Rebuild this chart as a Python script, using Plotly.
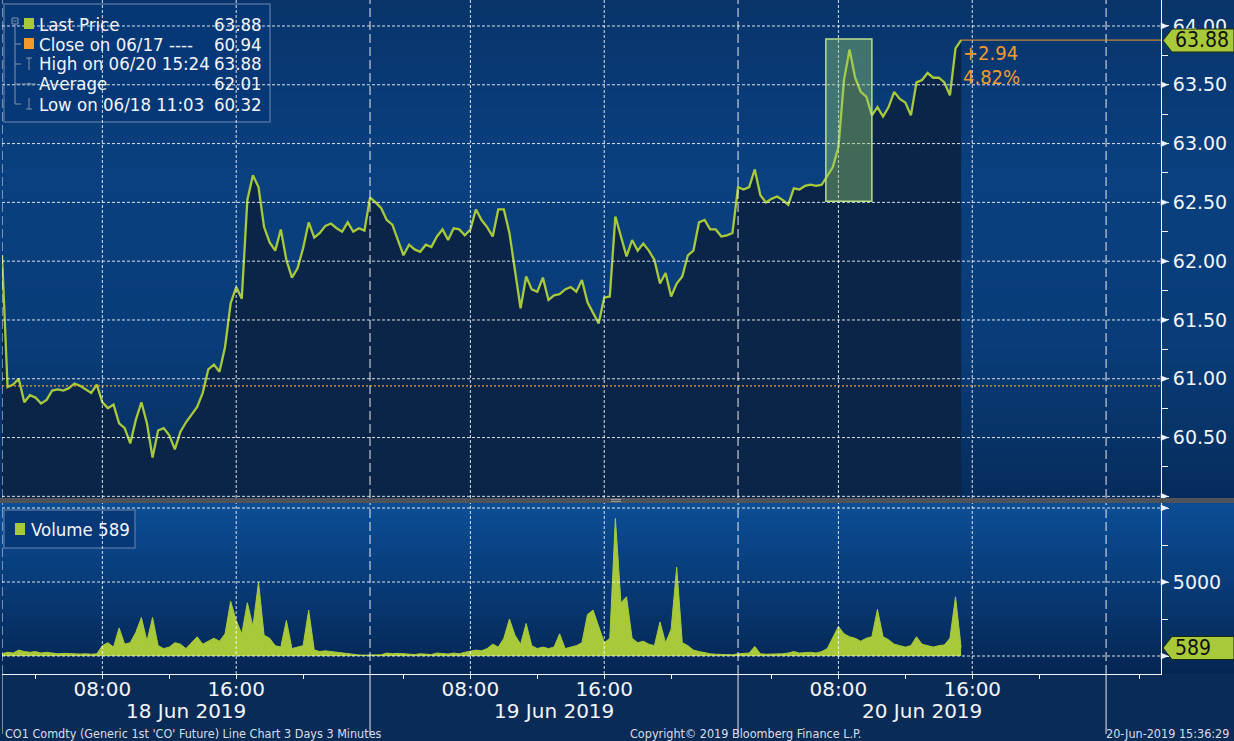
import plotly.graph_objects as go
import pandas as pd

# ---------------- data ----------------
session_dates = ["2019-06-18", "2019-06-19", "2019-06-20"]
date_labels = ["18 Jun 2019", "19 Jun 2019", "20 Jun 2019"]
session_open = "02:00"
sample_step = "20min"

price_18 = [62.05, 60.93, 60.95, 61.00, 60.80, 60.86, 60.84, 60.79, 60.82, 60.90,
            60.91, 60.90, 60.92, 60.96, 60.94, 60.91, 60.88, 60.95, 60.80, 60.75,
            60.78, 60.62, 60.58, 60.45, 60.65, 60.80, 60.62, 60.33, 60.56, 60.58,
            60.52, 60.40, 60.55, 60.63, 60.70, 60.76, 60.88, 61.08, 61.12, 61.06,
            61.27, 61.64, 61.78, 61.68, 62.52, 62.73, 62.63, 62.29, 62.16, 62.09,
            62.27, 62.01, 61.86, 61.94, 62.11, 62.33, 62.20, 62.24, 62.30, 62.32,
            62.28, 62.25, 62.33, 62.25, 62.28, 62.26]
price_19 = [62.54, 62.50, 62.45, 62.35, 62.31, 62.18, 62.05, 62.14, 62.10, 62.08,
            62.14, 62.12, 62.21, 62.27, 62.18, 62.28, 62.27, 62.22, 62.27, 62.44,
            62.35, 62.29, 62.21, 62.44, 62.44, 62.24, 61.93, 61.60, 61.87, 61.76,
            61.74, 61.86, 61.67, 61.71, 61.72, 61.76, 61.78, 61.74, 61.84, 61.65,
            61.56, 61.47, 61.69, 61.70, 62.38, 62.21, 62.04, 62.18, 62.09, 62.15,
            62.09, 62.01, 61.81, 61.90, 61.70, 61.81, 61.87, 62.05, 62.09, 62.33,
            62.35, 62.27, 62.27, 62.21, 62.22, 62.24]
price_20 = [62.63, 62.61, 62.63, 62.78, 62.56, 62.50, 62.53, 62.55, 62.52, 62.48,
            62.62, 62.61, 62.64, 62.65, 62.64, 62.65, 62.73, 62.80, 62.97, 63.54,
            63.80, 63.56, 63.44, 63.40, 63.24, 63.31, 63.23, 63.31, 63.44, 63.38,
            63.35, 63.24, 63.52, 63.54, 63.60, 63.56, 63.56, 63.52, 63.41, 63.81,
            63.88]

volume_18 = [150, 250, 200, 400, 300, 250, 300, 200, 250, 200,
             150, 180, 150, 120, 130, 150, 120, 150, 700, 900,
             600, 1900, 800, 900, 1600, 2600, 1000, 2600, 700, 500,
             600, 900, 800, 500, 900, 1300, 800, 1000, 1200, 1000,
             1500, 3700, 2400, 1500, 3600, 2000, 5000, 1400, 1200, 700,
             600, 2400, 500, 600, 700, 3100, 400, 300, 350, 300,
             250, 200, 150, 80, 70, 60]
volume_19 = [80, 100, 80, 200, 150, 180, 150, 120, 100, 150,
             120, 100, 200, 150, 130, 200, 150, 250, 300, 400,
             350, 500, 800, 600, 1200, 2500, 1400, 800, 2200, 700,
             500, 600, 500, 600, 1500, 500, 600, 700, 900, 2800,
             3100, 2000, 900, 1200, 9300, 3600, 4000, 1200, 900, 1000,
             800, 700, 2300, 900, 1800, 6000, 900, 700, 400, 300,
             200, 150, 120, 100, 100, 80]
volume_20 = [150, 200, 200, 650, 150, 120, 130, 100, 150, 200,
             300, 200, 250, 250, 200, 300, 500, 1200, 2000, 1500,
             1300, 1200, 1000, 1200, 1300, 3150, 1300, 1100, 800, 700,
             600, 700, 1300, 800, 700, 600, 700, 750, 1200, 4000,
             589]

price_ticks = [60.0, 60.5, 61.0, 61.5, 62.0, 62.5, 63.0, 63.5, 64.0]
price_tick_text = ["", "60.50", "61.00", "61.50", "62.00", "62.50", "63.00", "63.50", "64.00"]
price_minor = [60.25, 60.75, 61.25, 61.75, 62.25, 62.75, 63.25, 63.75]
volume_ticks = [0, 5000, 10000]
volume_tick_text = ["", "5000", ""]
volume_minor = [2500, 7500]
time_labels = ["08:00", "16:00"]
time_minor = ["04:00", "12:00", "20:00"]

prev_close = 60.94
last_price = 63.88
last_volume = 589
change_abs = "+2.94"
change_pct = "4.82%"
highlight_window = ["2019-06-20 07:15", "2019-06-20 10:00"]
highlight_prices = [62.51, 63.89]
x_range = ["2019-06-18 02:00", "2019-06-21 05:17"]

legend_labels = ["Last Price", "Close on 06/17 ----", "High on 06/20 15:24", "Average", "Low on 06/18 11:03"]
legend_values = ["63.88", "60.94", "63.88", "62.01", "60.32"]
volume_legend = "Volume 589"
footer_left = "CO1 Comdty (Generic 1st 'CO' Future) Line Chart 3 Days 3 Minutes"
footer_mid = "Copyright\u00a9 2019 Bloomberg Finance L.P."
footer_right = "20-Jun-2019 15:36:29"

# ---------------- build series ----------------
def stamps(day, n):
    return list(pd.date_range(f"{day} {session_open}", periods=n, freq=sample_step))

times, prices, volumes = [], [], []
for day, p, v in zip(session_dates, [price_18, price_19, price_20], [volume_18, volume_19, volume_20]):
    times += stamps(day, len(p))
    prices += p
    volumes += v
last_time = times[-1]

# ---------------- geometry / style ----------------
W, H = 1234, 741
ML, MR, MT, MB = 2, 73, 0, 67
PW, PH = W - ML - MR, H - MT - MB
FONT = "DejaVu Sans, sans-serif"
FONT_C = "DejaVu Sans Condensed, DejaVu Sans, sans-serif"
WHITE = "#f2f5f9"
GREEN = "#a8ca3a"
ORANGE = "#f39a2c"
GRID = "rgba(255,255,255,0.85)"
PRICE_RANGE = [59.986, 64.221]
VOL_RANGE = [-1216, 10338]


def fx(px):
    return (px - ML) / PW


def fy(py):
    return (H - MB - py) / PH


PRICE_DOMAIN = [fy(498), 1.0]
VOL_DOMAIN = [0.0, fy(503)]

shapes = []
annotations = []


def lerp(stops, t):
    for (t0, c0), (t1, c1) in zip(stops[:-1], stops[1:]):
        if t0 <= t <= t1:
            f = (t - t0) / (t1 - t0) if t1 > t0 else 0
            c = [round(a + (b - a) * f) for a, b in zip(c0, c1)]
            return f"rgb({c[0]},{c[1]},{c[2]})"
    c = stops[-1][1]
    return f"rgb({c[0]},{c[1]},{c[2]})"


def gradient(py0, py1, stops, n=60):
    for i in range(n):
        a = py0 + (py1 - py0) * i / n
        b = py0 + (py1 - py0) * (i + 1) / n
        shapes.append(dict(type="rect", xref="paper", yref="paper", x0=fx(0), x1=fx(W),
                           y0=fy(min(b + 0.6, py1)), y1=fy(a), fillcolor=lerp(stops, (i + 0.5) / n),
                           line_width=0, layer="below"))


gradient(0, 498, [(0.0, (8, 52, 106)), (0.35, (10, 64, 128)), (0.7, (9, 60, 120)), (1.0, (6, 44, 92))])
gradient(503, 674, [(0.0, (12, 78, 150)), (0.5, (8, 58, 118)), (1.0, (5, 38, 82))])
# panel separator bar
shapes.append(dict(type="rect", xref="paper", yref="paper", x0=fx(0), x1=fx(W), y0=fy(503), y1=fy(498),
                   fillcolor="#50545a", line_width=0, layer="below"))
for gy in (499.5, 501.5):
    shapes.append(dict(type="line", xref="paper", yref="paper", x0=fx(611), x1=fx(621), y0=fy(gy), y1=fy(gy),
                       line=dict(color="#9aa0a8", width=1), layer="above"))


def rect_px(x0, y0, x1, y1, fill, line_color=None, lw=1, layer="below"):
    shapes.append(dict(type="rect", xref="paper", yref="paper", x0=fx(x0), x1=fx(x1), y0=fy(y1), y1=fy(y0),
                       fillcolor=fill, line=dict(color=line_color or fill, width=lw if line_color else 0),
                       layer=layer))


def line_px(x0, y0, x1, y1, color, lw=1, layer="above", dash="solid"):
    shapes.append(dict(type="line", xref="paper", yref="paper", x0=fx(x0), x1=fx(x1), y0=fy(y0), y1=fy(y1),
                       line=dict(color=color, width=lw, dash=dash), layer=layer))


# legend boxes
rect_px(4, 4, 270, 122, "rgba(6,55,118,0.92)", "#4d6f9e", 1.5)
rect_px(4, 510, 135, 548, "rgba(6,55,118,0.92)", "#4d6f9e", 1.5)

# grid lines (drawn on top, as in the reference)
for v in price_ticks:
    shapes.append(dict(type="line", xref="x domain", yref="y", x0=0, x1=1, y0=v, y1=v,
                       line=dict(color=GRID, width=1, dash="3px,2px"), layer="above"))
for v in volume_ticks:
    shapes.append(dict(type="line", xref="x2 domain", yref="y2", x0=0, x1=1, y0=v, y1=v,
                       line=dict(color=GRID, width=1, dash="3px,2px"), layer="above"))
for d in session_dates:
    for t in time_labels:
        for xr, yr in (("x", "y domain"), ("x2", "y2 domain")):
            shapes.append(dict(type="line", xref=xr, yref=yr, x0=f"{d} {t}", x1=f"{d} {t}", y0=0, y1=1,
                               line=dict(color=GRID, width=1, dash="3px,2px"), layer="above"))
sep_days = session_dates + [str((pd.Timestamp(session_dates[-1]) + pd.Timedelta(days=1)).date())]
for d in sep_days:
    xs = f"{d} {session_open}"
    for xr, yr in (("x", "y domain"), ("x2", "y2 domain")):
        shapes.append(dict(type="line", xref=xr, yref=yr, x0=xs, x1=xs, y0=0, y1=1,
                           line=dict(color="rgba(255,255,255,0.9)", width=1, dash="9px,4px"), layer="above"))
    shapes.append(dict(type="line", xref="x2", yref="paper", x0=xs, x1=xs, y0=fy(734), y1=fy(674),
                       line=dict(color="rgba(255,255,255,0.9)", width=1), layer="above"))

# previous close and last price lines
shapes.append(dict(type="line", xref="x domain", yref="y", x0=0, x1=1, y0=prev_close, y1=prev_close,
                   line=dict(color=ORANGE, width=1.2, dash="2px,2px"), layer="above"))
shapes.append(dict(type="line", xref="x", yref="y", x0=last_time, x1=x_range[1], y0=last_price, y1=last_price,
                   line=dict(color=ORANGE, width=1), layer="above"))
# highlight window
shapes.append(dict(type="rect", xref="x", yref="y", x0=highlight_window[0], x1=highlight_window[1],
                   y0=highlight_prices[0], y1=highlight_prices[1], fillcolor="rgba(150,205,110,0.40)",
                   line=dict(color="#b8de8c", width=1.5), layer="above"))

# tick arrows on the right axes
p_half = 3 / 117.6
for v in price_ticks:
    shapes.append(dict(type="path", xref="paper", yref="y",
                       path=f"M {fx(1161)},{v + p_half} L {fx(1168)},{v} L {fx(1161)},{v - p_half} Z",
                       fillcolor=WHITE, line=dict(color=WHITE, width=0.5), layer="above"))
v_half = 3 * 5000 / 74
for v in volume_ticks:
    shapes.append(dict(type="path", xref="paper", yref="y2",
                       path=f"M {fx(1161)},{v + v_half} L {fx(1168)},{v} L {fx(1161)},{v - v_half} Z",
                       fillcolor=WHITE, line=dict(color=WHITE, width=0.5), layer="above"))


def pentagon(ycen, text):
    y0, y1 = ycen - 11.5, ycen + 11.5
    path = (f"M {fx(1163)},{fy(ycen)} L {fx(1172)},{fy(y0)} L {fx(1234)},{fy(y0)} "
            f"L {fx(1234)},{fy(y1)} L {fx(1172)},{fy(y1)} Z")
    shapes.append(dict(type="path", xref="paper", yref="paper", path=path, fillcolor=GREEN,
                       line=dict(color="#1a2a10", width=1), layer="above"))
    annotations.append(dict(xref="paper", yref="paper", x=fx(1173), y=fy(ycen), text=text, showarrow=False,
                            xanchor="left", yanchor="middle", font=dict(family=FONT_C, size=21, color="#101010")))


pentagon(40.5, f"{last_price:.2f}")
pentagon(648, f"{last_volume}")

# legend contents
TREE = "#8396b0"
rect_px(12, 18, 18, 24, "rgba(0,0,0,0)", TREE, 1, layer="above")
line_px(13.5, 21, 16.5, 21, TREE)
line_px(15, 24, 15, 104, TREE)
for ry in (44, 64, 84, 104):
    line_px(15, ry, 21, ry, TREE)
line_px(26, 58, 32, 58, TREE)
line_px(29, 58, 29, 70, TREE)
line_px(22, 84, 36, 84, TREE)
shapes.append(dict(type="circle", xref="paper", yref="paper", x0=fx(27.5), x1=fx(30.5), y0=fy(85.5), y1=fy(82.5),
                   fillcolor=TREE, line_width=0, layer="above"))
line_px(29, 98, 29, 109, TREE)
line_px(26, 109, 32, 109, TREE)
rect_px(24, 18, 34, 29, GREEN, layer="above")
rect_px(24, 38, 34, 49, ORANGE, layer="above")
rect_px(15, 523, 25, 535, GREEN, layer="above")

for i, (lab, val) in enumerate(zip(legend_labels, legend_values)):
    ry = 24 + 20 * i
    annotations.append(dict(xref="paper", yref="paper", x=fx(37), y=fy(ry), text=lab, showarrow=False,
                            xanchor="left", yanchor="middle", font=dict(family=FONT_C, size=18.5, color=WHITE)))
    annotations.append(dict(xref="paper", yref="paper", x=fx(264), y=fy(ry), text=val, showarrow=False,
                            xanchor="right", yanchor="middle", font=dict(family=FONT_C, size=18.5, color=WHITE)))
annotations.append(dict(xref="paper", yref="paper", x=fx(29), y=fy(529), text=volume_legend, showarrow=False,
                        xanchor="left", yanchor="middle", font=dict(family=FONT_C, size=18.5, color=WHITE)))

# change labels
annotations.append(dict(xref="x", yref="paper", x=last_time, y=fy(53), text=change_abs, showarrow=False,
                        xanchor="left", yanchor="middle", font=dict(family=FONT_C, size=20, color=ORANGE)))
annotations.append(dict(xref="x", yref="paper", x=last_time, y=fy(77), text=change_pct, showarrow=False,
                        xanchor="left", yanchor="middle", font=dict(family=FONT_C, size=20, color=ORANGE)))

# date labels and footer
for d, lab in zip(session_dates, date_labels):
    annotations.append(dict(xref="x2", yref="paper", x=f"{d} 13:00", y=fy(711), text=lab, showarrow=False,
                            xanchor="center", yanchor="middle", font=dict(family=FONT, size=20, color=WHITE)))
annotations.append(dict(xref="paper", yref="paper", x=fx(3), y=fy(733), text=footer_left, showarrow=False,
                        xanchor="left", yanchor="middle", font=dict(family=FONT_C, size=12.5, color="#d8dee8")))
annotations.append(dict(xref="paper", yref="paper", x=fx(745), y=fy(733), text=footer_mid, showarrow=False,
                        xanchor="center", yanchor="middle", font=dict(family=FONT_C, size=12.5, color="#d8dee8")))
annotations.append(dict(xref="paper", yref="paper", x=fx(1231), y=fy(733), text=footer_right, showarrow=False,
                        xanchor="right", yanchor="middle", font=dict(family=FONT_C, size=12.5, color="#d8dee8")))

# ---------------- figure ----------------
fig = go.Figure()
fig.add_trace(go.Scatter(x=times, y=prices, mode="lines", line=dict(color=GREEN, width=2.3),
                         fill="tozeroy", fillcolor="#0b2548", xaxis="x", yaxis="y", hoverinfo="skip"))
fig.add_trace(go.Scatter(x=times, y=volumes, mode="lines", line=dict(color=GREEN, width=1),
                         fill="tozeroy", fillcolor=GREEN, xaxis="x2", yaxis="y2", hoverinfo="skip"))

major_x = [f"{d} {t}" for d in session_dates for t in time_labels]
minor_x = [f"{d} {t}" for d in sep_days for t in time_minor]
rb = [dict(bounds=[0, 2], pattern="hour")]

fig.update_layout(
    width=W, height=H, margin=dict(l=ML, r=MR, t=MT, b=MB, autoexpand=False),
    paper_bgcolor="#0b2b57", plot_bgcolor="rgba(0,0,0,0)", showlegend=False,
    font=dict(family=FONT, color=WHITE),
    shapes=shapes, annotations=annotations,
    xaxis=dict(type="date", range=x_range, rangebreaks=rb, domain=[0, 1], anchor="y", matches="x2",
               showticklabels=False, showgrid=False, zeroline=False, ticks=""),
    xaxis2=dict(type="date", range=x_range, rangebreaks=rb, domain=[0, 1], anchor="y2",
                tickmode="array", tickvals=major_x, ticktext=[t for d in session_dates for t in time_labels],
                ticks="outside", ticklen=4, tickcolor=WHITE, tickwidth=1, ticklabelstandoff=-7,
                minor=dict(tickmode="array", tickvals=minor_x, ticks="outside", ticklen=4, tickcolor=WHITE,
                           showgrid=False),
                showline=True, linecolor=WHITE, linewidth=1, showgrid=False, zeroline=False,
                tickfont=dict(family=FONT, size=20, color=WHITE)),
    yaxis=dict(domain=PRICE_DOMAIN, range=PRICE_RANGE, side="right", anchor="x",
               tickmode="array", tickvals=price_ticks, ticktext=price_tick_text,
               ticks="outside", ticklen=7, tickcolor=WHITE,
               minor=dict(tickmode="array", tickvals=price_minor, ticks="outside", ticklen=6, tickcolor=WHITE),
               showline=True, linecolor=WHITE, linewidth=1, showgrid=False, zeroline=False,
               tickfont=dict(family=FONT, size=19, color=WHITE)),
    yaxis2=dict(domain=VOL_DOMAIN, range=VOL_RANGE, side="right", anchor="x2",
                tickmode="array", tickvals=volume_ticks, ticktext=volume_tick_text,
                ticks="outside", ticklen=7, tickcolor=WHITE,
                minor=dict(tickmode="array", tickvals=volume_minor, ticks="outside", ticklen=6, tickcolor=WHITE),
                showline=True, linecolor=WHITE, linewidth=1, showgrid=False, zeroline=False,
                tickfont=dict(family=FONT, size=19, color=WHITE)),
)

fig.write_html("out.html", config={"displayModeBar": False},
               post_script="document.body.style.margin='0';document.body.style.overflow='hidden';")
